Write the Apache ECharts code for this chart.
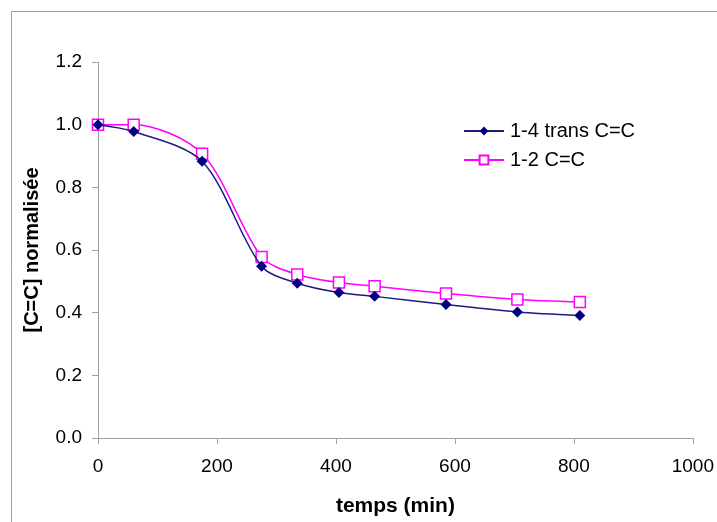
<!DOCTYPE html>
<html>
<head>
<meta charset="utf-8">
<script src="https://cdn.jsdelivr.net/npm/echarts@6/dist/echarts.min.js"></script>
<style>
html,body{margin:0;padding:0;background:#fff;}
#chart{width:717px;height:522px;}
</style>
</head>
<body>
<div id="chart"></div>
<script>
// Data
const timeMin = [0, 60, 175, 275, 335, 405, 465, 585, 705, 810];
const trans14 = [1.0, 0.978, 0.883, 0.548, 0.494, 0.464, 0.452, 0.426, 0.402, 0.391];
const cc12    = [1.0, 1.0, 0.907, 0.578, 0.522, 0.496, 0.484, 0.461, 0.442, 0.434];
const seriesNames = ['1-4 trans C=C', '1-2 C=C'];
const xTicks = [0, 200, 400, 600, 800, 1000];
const yTicks = [0.0, 0.2, 0.4, 0.6, 0.8, 1.0, 1.2];

function pairs(xs, ys){ return xs.map((x,i)=>[x, ys[i]]); }

const chart = echarts.init(document.getElementById('chart'), null, {renderer:'canvas'});
const axisGray = '#a0a0a0';
const font = 'Arial, "Liberation Sans", sans-serif';

chart.setOption({
  backgroundColor: '#ffffff',
  animation: false,
  graphic: [{
    type: 'rect',
    shape: {x: 11.5, y: 11.5, width: 760, height: 560},
    style: {fill: 'none', stroke: '#a0a0a0', lineWidth: 1},
    silent: true, z: -1
  }],
  grid: {left: 98, top: 62, right: 21, bottom: 81, containLabel: false},
  legend: {
    orient: 'vertical',
    left: 458, top: 116,
    itemWidth: 40, itemHeight: 11, itemGap: 9,
    textStyle: {fontFamily: font, fontSize: 20, color: '#000', padding: [0,0,0,1]},
    data: seriesNames
  },
  xAxis: {
    type: 'value', min: xTicks[0], max: xTicks[xTicks.length-1], interval: 200,
    name: 'temps (min)', nameLocation: 'middle', nameGap: 58,
    nameTextStyle: {fontFamily: font, fontSize: 21, fontWeight: 'bold', color: '#000'},
    axisLine: {show: true, lineStyle: {color: axisGray, width: 1}},
    axisTick: {show: true, inside: false, length: 6, lineStyle: {color: axisGray}},
    axisLabel: {fontFamily: font, fontSize: 19, color: '#000', margin: 19,
      formatter: v => String(v)},
    splitLine: {show: false}
  },
  yAxis: {
    type: 'value', min: yTicks[0], max: yTicks[yTicks.length-1], interval: 0.2,
    name: '[C=C] normalisée', nameLocation: 'middle', nameGap: 56, nameRotate: 90,
    nameTextStyle: {fontFamily: font, fontSize: 20, fontWeight: 'bold', color: '#000'},
    axisLine: {show: true, lineStyle: {color: axisGray, width: 1}},
    axisTick: {show: true, inside: false, length: 6, lineStyle: {color: axisGray}},
    axisLabel: {fontFamily: font, fontSize: 19, color: '#000', margin: 16,
      formatter: v => v.toFixed(1)},
    splitLine: {show: false}
  },
  series: [
    {
      name: seriesNames[0], type: 'line', smooth: 0.3,
      data: pairs(timeMin, trans14),
      symbol: 'diamond', symbolSize: 11,
      itemStyle: {color: '#000080'},
      lineStyle: {color: '#1c1c80', width: 1.5},
      z: 3
    },
    {
      name: seriesNames[1], type: 'line', smooth: 0.3,
      data: pairs(timeMin, cc12),
      symbol: 'rect', symbolSize: 11,
      itemStyle: {color: '#ffffff', borderColor: '#ff00ff', borderWidth: 1.5},
      lineStyle: {color: '#ff00ff', width: 1.5},
      z: 2
    }
  ]
});
</script>
</body>
</html>
